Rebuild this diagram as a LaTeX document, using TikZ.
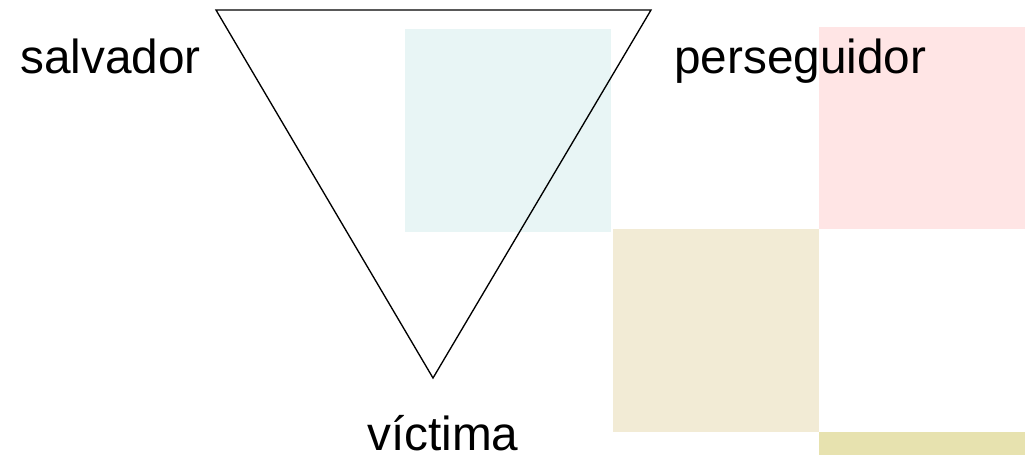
\documentclass[tikz,border=0pt]{standalone}
\usepackage{fontspec}
\setmainfont{Liberation Sans}
\definecolor{teal}{HTML}{E8F5F5}
\definecolor{pinkish}{HTML}{FFE5E5}
\definecolor{beige}{HTML}{F2EBD5}
\definecolor{olive}{HTML}{E7E2AF}
\begin{document}
\begin{tikzpicture}[x=0.75pt,y=-0.75pt,
  lbl/.style={anchor=base west,inner sep=0pt,font=\fontsize{35.8}{40}\selectfont},
  tile/.style={draw=none}]
\useasboundingbox (0,0) rectangle (1027,455);
\fill[teal] (405,29) rectangle (611,232);
\fill[pinkish] (819,27) rectangle (1025,229);
\fill[beige] (613,229) rectangle (819,432);
\fill[olive] (819,432) rectangle (1025,455);
\coordinate (tl) at (216,10);
\coordinate (tr) at (651,10);
\coordinate (bt) at (433,378);
\draw[line width=1pt,line join=miter] (tl) -- (tr) -- (bt) -- cycle;
\node[lbl] (salv) at (20,73) {salvador};
\node[lbl] (pers) at (674,73) {perseguidor};
\node[lbl] (vict) at (367,450) {víctima};
\end{tikzpicture}
\end{document}
